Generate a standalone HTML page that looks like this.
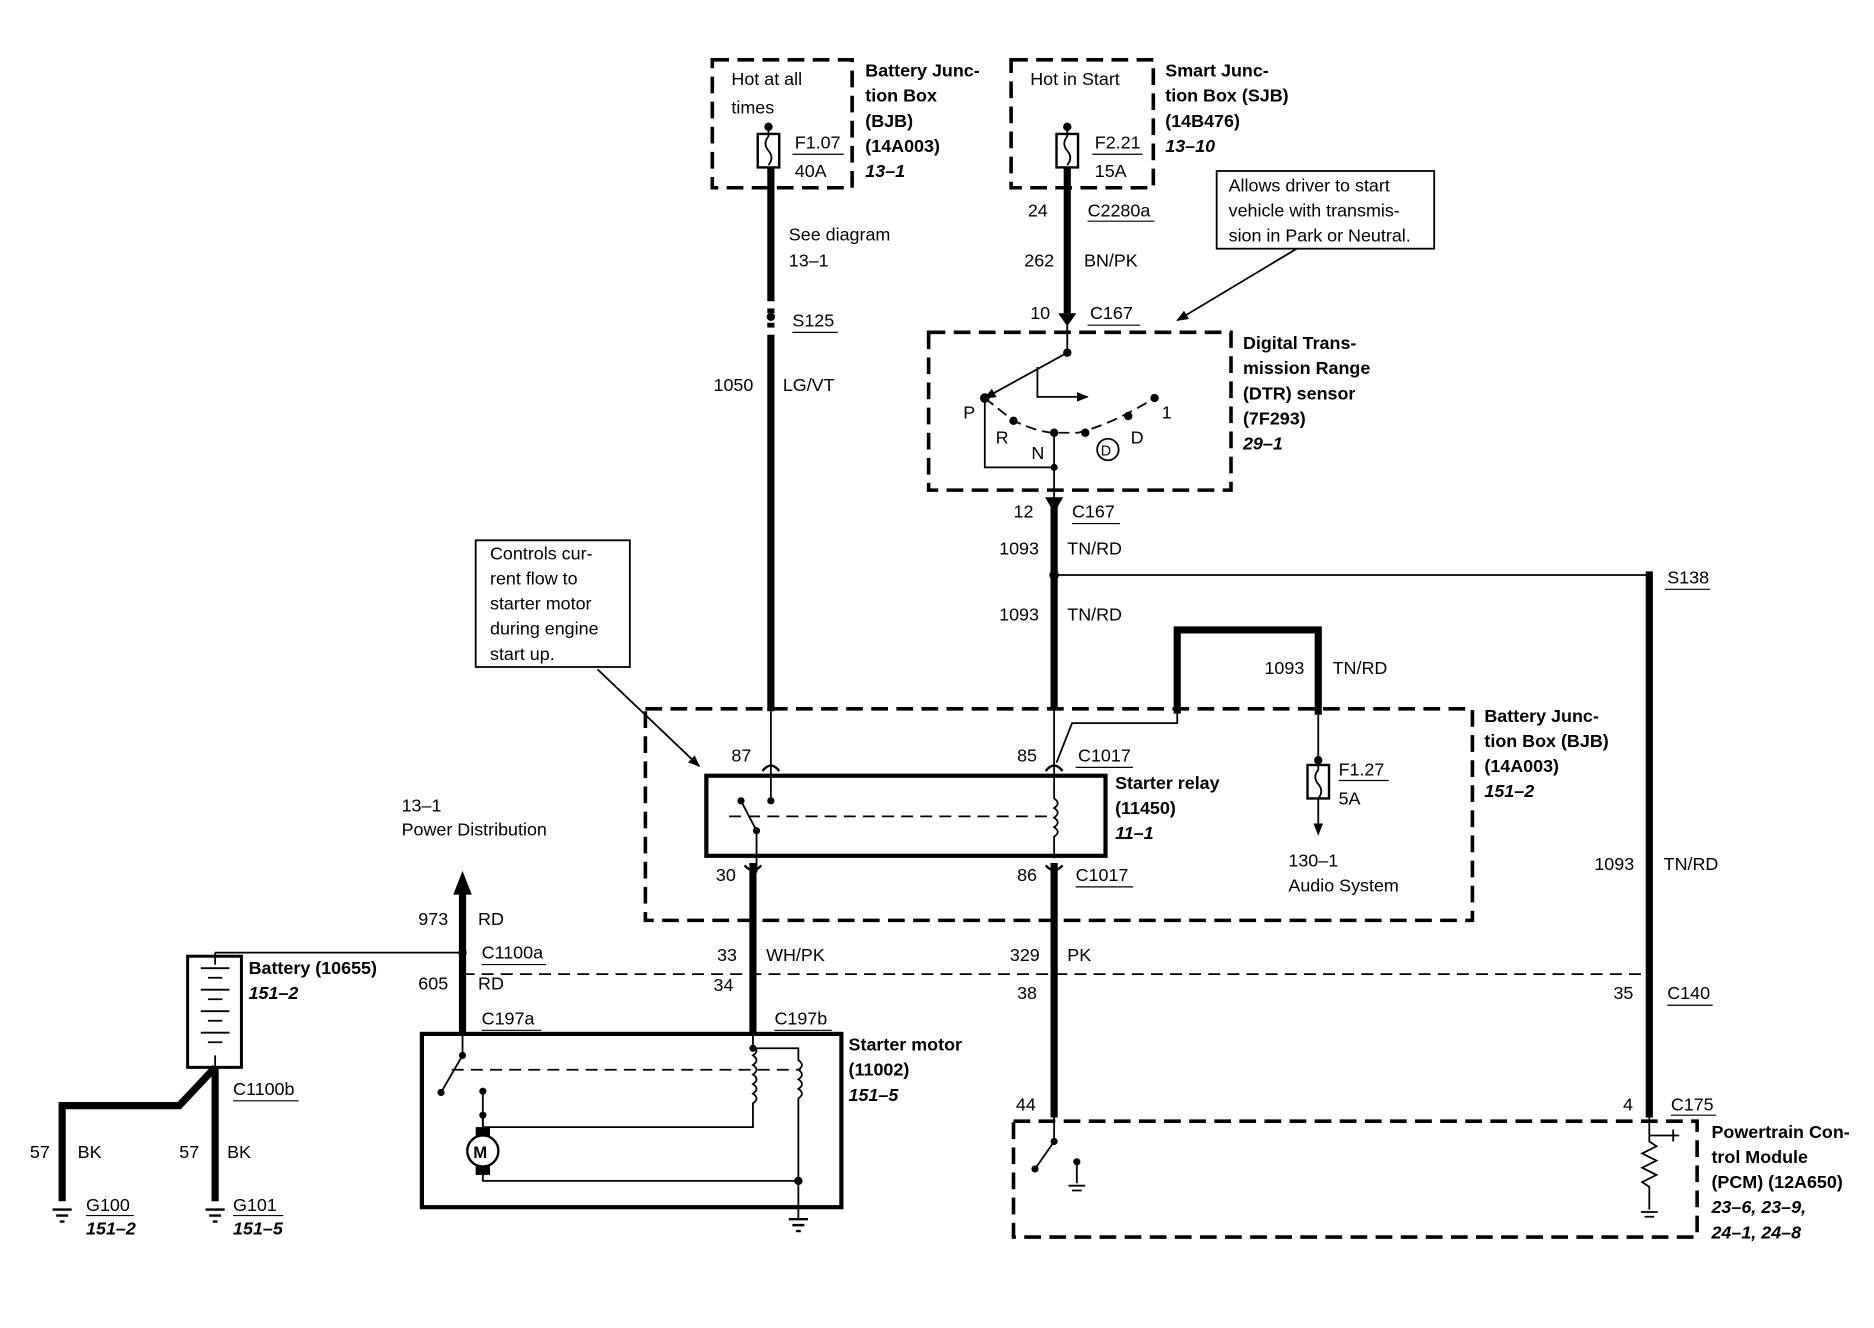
<!DOCTYPE html>
<html><head><meta charset="utf-8"><style>
html,body{margin:0;padding:0;background:#fff}
svg{display:block}
text{font-family:"Liberation Sans",sans-serif;font-size:15px;fill:#000}
.b{font-weight:bold}
.i{font-weight:bold;font-style:italic}
</style></head><body>
<svg width="1874" height="1328" viewBox="0 0 1568 1111" xmlns="http://www.w3.org/2000/svg">
<defs><marker id="ar" markerWidth="10" markerHeight="10" refX="9" refY="5" orient="auto" markerUnits="userSpaceOnUse"><path d="M0,1 L10,5 L0,9 z" fill="#000"/></marker></defs>
<g fill="none" stroke="#000">
<rect x="596" y="50" width="117" height="107" stroke-width="3" stroke-dasharray="14,7"/>
<rect x="846" y="50" width="119" height="107" stroke-width="3" stroke-dasharray="14,7"/>
<rect x="634" y="112" width="18" height="28" stroke-width="2"/>
<path d="M643,106 v8 q-5,6 0,12 q5,6 0,12" stroke-width="1.5"/>
<rect x="884" y="112" width="18" height="28" stroke-width="2"/>
<path d="M893,106 v8 q-5,6 0,12 q5,6 0,12" stroke-width="1.5"/>
<line x1="663" y1="129" x2="706" y2="129" stroke-width="1"/>
<line x1="914" y1="129" x2="956" y2="129" stroke-width="1"/>
<line x1="645" y1="140" x2="645" y2="252" stroke-width="6"/>
<line x1="645" y1="258" x2="645" y2="262" stroke-width="6"/>
<line x1="645" y1="270" x2="645" y2="274" stroke-width="6"/>
<line x1="645" y1="280" x2="645" y2="595" stroke-width="6"/>
<line x1="645" y1="595" x2="645" y2="670" stroke-width="1.5"/>
<line x1="893" y1="140" x2="893" y2="262" stroke-width="6"/>
<path d="M886,262 L893,272 L900,262" fill="#000" stroke-width="1"/>
<line x1="893" y1="272" x2="893" y2="295" stroke-width="1.5"/>
<rect x="1018" y="143" width="182" height="65" stroke-width="1.5"/>
<line x1="1085" y1="208" x2="985" y2="268" stroke-width="1.5" marker-end="url(#ar)"/>
<rect x="777" y="278" width="253" height="132" stroke-width="3" stroke-dasharray="14,7"/>
<line x1="893" y1="295" x2="824" y2="333" stroke-width="1.5" marker-end="url(#ar)"/>
<path d="M868,307 v25 h42" stroke-width="1.5" marker-end="url(#ar)"/>
<path d="M824,333 L848,352 Q870,362 882,362 L902,362 Q930,355 966,333" stroke-width="1.5" stroke-dasharray="9,5"/>
<path d="M824,333 V391 H882" stroke-width="1.5"/>
<line x1="882" y1="362" x2="882" y2="420" stroke-width="1.5"/>
<circle cx="927" cy="376" r="9" stroke-width="1.5"/>
<path d="M875,416 L882,428 L889,416" fill="#000" stroke-width="1"/>
<line x1="882" y1="420" x2="882" y2="593" stroke-width="6"/>
<line x1="882" y1="481" x2="1380" y2="481" stroke-width="1.5"/>
<line x1="1380" y1="478" x2="1380" y2="935" stroke-width="6"/>
<path d="M985,597 V527 H1103 V598" stroke-width="6"/>
<path d="M985,597 V605 H897 L884,638" stroke-width="1.5"/>
<line x1="882" y1="593" x2="882" y2="648" stroke-width="1.5"/>
<line x1="1103" y1="598" x2="1103" y2="636" stroke-width="1.5"/>
<path d="M875,645 Q882,636 889,645 M638,645 Q645,636 652,645" stroke-width="2"/>
<rect x="540" y="593" width="692" height="177" stroke-width="3" stroke-dasharray="14,7"/>
<rect x="1094" y="640" width="18" height="28" stroke-width="2"/>
<path d="M1103,636 v8 q-5,6 0,12 q5,6 0,12 v30" stroke-width="1.5" marker-end="url(#ar)"/>
<rect x="591" y="649" width="334" height="67" stroke-width="3.5"/>
<path d="M620,670 L633,695 V730" stroke-width="1.5"/>
<line x1="610" y1="683" x2="882" y2="683" stroke-width="1.5" stroke-dasharray="10,6"/>
<path d="M882,648 v20 q6,4 0,8 q6,4 0,8 q6,4 0,8 q6,4 0,8 v18" stroke-width="1.5"/>
<path d="M623,724 Q630,732 637,724 M875,724 Q882,732 889,724" stroke-width="2"/>
<rect x="398" y="452" width="129" height="106" stroke-width="1.5"/>
<line x1="500" y1="560" x2="585" y2="641" stroke-width="1.5" marker-end="url(#ar)"/>
<line x1="630" y1="722" x2="630" y2="865" stroke-width="6"/>
<line x1="882" y1="722" x2="882" y2="935" stroke-width="6"/>
<line x1="387" y1="815" x2="1380" y2="815" stroke-width="1.5" stroke-dasharray="10,6"/>
<line x1="387" y1="865" x2="387" y2="745" stroke-width="6"/>
<path d="M380,748 L387,730 L394,748 z" fill="#000" stroke-width="1"/>
<line x1="180" y1="797" x2="387" y2="797" stroke-width="1.5"/>
<rect x="157" y="800" width="45" height="93" stroke-width="2.5"/>
<path d="M180,797 v10 M168,810 h24 M174,818 h12 M168,828 h24 M174,836 h12 M168,846 h24 M174,854 h12 M168,864 h24 M174,872 h12 M180,883 v10" stroke-width="1.5"/>
<line x1="180" y1="893" x2="180" y2="1005" stroke-width="6"/>
<path d="M52,1005 V925 H150 L180,893" stroke-width="6"/>
<path d="M44,1012 h16 M47,1017 h10 M50,1022 h4 M172,1012 h16 M175,1017 h10 M178,1022 h4" stroke-width="2"/>
<rect x="353" y="865" width="351" height="145" stroke-width="3.5"/>
<path d="M387,865 V883 L369,914" stroke-width="1.5"/>
<line x1="378" y1="895" x2="670" y2="895" stroke-width="1.5" stroke-dasharray="10,6"/>
<path d="M630,865 v10 q6,4 0,8 q6,4 0,8 q6,4 0,8 q6,4 0,8 q6,4 0,8 q6,4 0,8 v20 H404 V913" stroke-width="1.5"/>
<path d="M630,877 H668 v10 q6,4 0,8 q6,4 0,8 q6,4 0,8 q6,4 0,8 V1020" stroke-width="1.5"/>
<path d="M404,933 v16 M404,978 V988 H668" stroke-width="1.5"/>
<circle cx="404" cy="963" r="13" stroke-width="2"/>
<path d="M660,1020 h16 M663,1025 h10 M666,1030 h4" stroke-width="2"/>
<rect x="848" y="938" width="572" height="97" stroke-width="3" stroke-dasharray="14,7"/>
<path d="M882,935 V955 L866,978" stroke-width="1.5"/>
<path d="M901,972 V990 M894,992 h14 M897,996 h8" stroke-width="1.5"/>
<path d="M1380,935 V955 l6,4 -12,6 12,6 -12,6 12,6 -12,6 6,4 V1012 M1373,1014 h14 M1376,1018 h8" stroke-width="1.5"/>
<path d="M1380,950 H1405 M1400,945 v10" stroke-width="1.5"/>
<path d="M663,278 h38 M910,272 h44 M910,185 h56 M897,438 h40 M1393,493 h38 M900,642 h48 M900,742 h48 M403,807 h54 M403,862 h50 M648,862 h48 M195,921 h55 M72,1017 h40 M195,1017 h42 M1395,841 h38 M1398,933 h38 M1120,653 h42" stroke-width="1"/>
</g>
<g fill="#000">
<circle cx="643" cy="106" r="3.5"/><circle cx="893" cy="106" r="3.5"/>
<circle cx="645" cy="265" r="3.5"/><circle cx="893" cy="295" r="3.5"/><circle cx="824" cy="333" r="4"/>
<circle cx="848" cy="352" r="3.5"/><circle cx="882" cy="362" r="3.5"/><circle cx="908" cy="362" r="3.5"/><circle cx="944" cy="348" r="3.5"/><circle cx="966" cy="333" r="3.5"/><circle cx="882" cy="391" r="3"/>
<circle cx="882" cy="481" r="4"/><circle cx="1103" cy="636" r="3.5"/><circle cx="645" cy="670" r="3"/><circle cx="633" cy="695" r="3"/><circle cx="620" cy="670" r="3"/>
<circle cx="387" cy="797" r="3.5"/><circle cx="387" cy="883" r="3"/><circle cx="369" cy="914" r="3"/><circle cx="404" cy="913" r="3"/><circle cx="404" cy="933" r="3"/><circle cx="668" cy="988" r="3.5"/><circle cx="630" cy="877" r="3"/>
<rect x="398" y="943" width="12" height="7"/><rect x="398" y="976" width="12" height="7"/>
<circle cx="882" cy="955" r="3"/><circle cx="866" cy="978" r="3"/><circle cx="901" cy="972" r="3"/>
</g>
<g>
<text x="612" y="71">Hot at all</text><text x="612" y="95">times</text>
<text x="665" y="124">F1.07</text><text x="665" y="148">40A</text>
<text class="b" x="724" y="64">Battery Junc-</text><text class="b" x="724" y="85">tion Box</text><text class="b" x="724" y="106">(BJB)</text><text class="b" x="724" y="127">(14A003)</text><text class="i" x="724" y="148">13–1</text>
<text x="862" y="71">Hot in Start</text><text x="916" y="124">F2.21</text><text x="916" y="148">15A</text>
<text class="b" x="975" y="64">Smart Junc-</text><text class="b" x="975" y="85">tion Box (SJB)</text><text class="b" x="975" y="106">(14B476)</text><text class="i" x="975" y="127">13–10</text>
<text x="1028" y="160">Allows driver to start</text><text x="1028" y="181">vehicle with transmis-</text><text x="1028" y="202">sion in Park or Neutral.</text>
<text x="860" y="181">24</text><text x="910" y="181">C2280a</text>
<text x="857" y="223">262</text><text x="907" y="223">BN/PK</text>
<text x="862" y="267">10</text><text x="912" y="267">C167</text>
<text x="660" y="201">See diagram</text><text x="660" y="223">13–1</text><text x="663" y="273">S125</text>
<text x="597" y="327">1050</text><text x="655" y="327">LG/VT</text>
<text class="b" x="1040" y="292">Digital Trans-</text><text class="b" x="1040" y="313">mission Range</text><text class="b" x="1040" y="334">(DTR) sensor</text><text class="b" x="1040" y="355">(7F293)</text><text class="i" x="1040" y="376">29–1</text>
<text x="806" y="350">P</text><text x="833" y="371">R</text><text x="863" y="384">N</text><text x="946" y="371">D</text><text x="972" y="350">1</text><text x="921" y="381" style="font-size:12px">D</text>
<text x="848" y="433">12</text><text x="897" y="433">C167</text>
<text x="836" y="464">1093</text><text x="893" y="464">TN/RD</text>
<text x="836" y="519">1093</text><text x="893" y="519">TN/RD</text>
<text x="1395" y="488">S138</text>
<text x="1058" y="564">1093</text><text x="1115" y="564">TN/RD</text>
<text x="410" y="468">Controls cur-</text><text x="410" y="489">rent flow to</text><text x="410" y="510">starter motor</text><text x="410" y="531">during engine</text><text x="410" y="552">start up.</text>
<text class="b" x="1242" y="604">Battery Junc-</text><text class="b" x="1242" y="625">tion Box (BJB)</text><text class="b" x="1242" y="646">(14A003)</text><text class="i" x="1242" y="667">151–2</text>
<text x="612" y="637">87</text><text x="851" y="637">85</text><text x="902" y="637">C1017</text>
<text x="1120" y="649">F1.27</text><text x="1120" y="673">5A</text>
<text class="b" x="933" y="660">Starter relay</text><text class="b" x="933" y="681">(11450)</text><text class="i" x="933" y="702">11–1</text>
<text x="599" y="737">30</text><text x="851" y="737">86</text><text x="900" y="737">C1017</text>
<text x="1078" y="725">130–1</text><text x="1078" y="746">Audio System</text>
<text x="336" y="679">13–1</text><text x="336" y="699">Power Distribution</text>
<text x="1334" y="728">1093</text><text x="1392" y="728">TN/RD</text>
<text x="350" y="774">973</text><text x="400" y="774">RD</text><text x="403" y="802">C1100a</text>
<text x="350" y="828">605</text><text x="400" y="828">RD</text><text x="403" y="857">C197a</text>
<text class="b" x="208" y="815">Battery (10655)</text><text class="i" x="208" y="836">151–2</text>
<text x="600" y="804">33</text><text x="641" y="804">WH/PK</text><text x="597" y="829">34</text><text x="648" y="857">C197b</text>
<text x="845" y="804">329</text><text x="893" y="804">PK</text><text x="851" y="836">38</text>
<text x="1350" y="836">35</text><text x="1395" y="836">C140</text>
<text class="b" x="710" y="879">Starter motor</text><text class="b" x="710" y="900">(11002)</text><text class="i" x="710" y="921">151–5</text>
<text x="195" y="916">C1100b</text>
<text x="25" y="969">57</text><text x="65" y="969">BK</text><text x="150" y="969">57</text><text x="190" y="969">BK</text>
<text x="72" y="1013">G100</text><text class="i" x="72" y="1033">151–2</text>
<text x="195" y="1013">G101</text><text class="i" x="195" y="1033">151–5</text>
<text x="396" y="969" style="font-size:14px;font-weight:bold">M</text>
<text x="850" y="929">44</text><text x="1358" y="929">4</text><text x="1398" y="929">C175</text>
<text class="b" x="1432" y="952">Powertrain Con-</text><text class="b" x="1432" y="973">trol Module</text><text class="b" x="1432" y="994">(PCM) (12A650)</text><text class="i" x="1432" y="1015">23–6, 23–9,</text><text class="i" x="1432" y="1036">24–1, 24–8</text>
</g>
</svg>
</body></html>
